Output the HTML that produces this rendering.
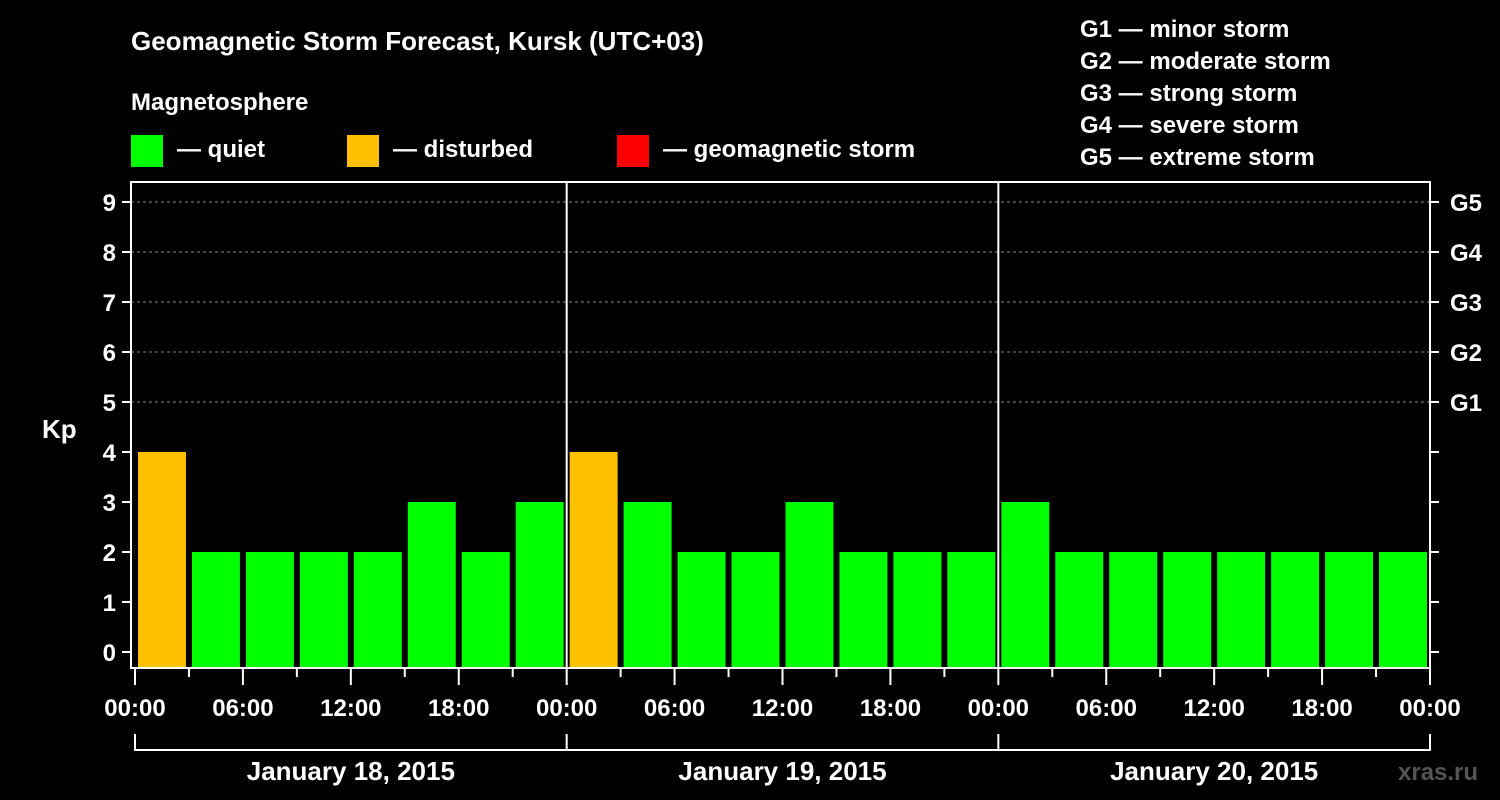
<!DOCTYPE html>
<html><head><meta charset="utf-8"><style>body{margin:0;background:#000}svg{display:block}text{font-family:"Liberation Sans",Arial,sans-serif;font-weight:bold;fill:#fff}</style></head>
<body>
<svg id="c" width="1500" height="800" viewBox="0 0 1500 800">
<rect width="1500" height="800" fill="#000"/>
<text x="131" y="50" font-size="26">Geomagnetic Storm Forecast, Kursk (UTC+03)</text>
<text x="131" y="110" font-size="24">Magnetosphere</text>
<rect x="131" y="135" width="32" height="32" fill="#00ff00"/>
<text x="177" y="157" font-size="24">— quiet</text>
<rect x="347" y="135" width="32" height="32" fill="#ffc000"/>
<text x="393" y="157" font-size="24">— disturbed</text>
<rect x="617" y="135" width="32" height="32" fill="#ff0000"/>
<text x="663" y="157" font-size="24">— geomagnetic storm</text>
<g font-size="24">
<text x="1080" y="37">G1 — minor storm</text>
<text x="1080" y="69">G2 — moderate storm</text>
<text x="1080" y="101">G3 — strong storm</text>
<text x="1080" y="133">G4 — severe storm</text>
<text x="1080" y="165">G5 — extreme storm</text>
</g>
<text x="42" y="438" font-size="26">Kp</text>
<text x="1398" y="780" font-size="24" fill="#555" style="fill:#555">xras.ru</text>
<g id="plot"></g>
</svg>
<script>
const kpValues=[4,2,2,2,2,3,2,3, 4,3,2,2,3,2,2,2, 3,2,2,2,2,2,2,2];
const dayLabels=["January 18, 2015","January 19, 2015","January 20, 2015"];
const hourLabels=["00:00","06:00","12:00","18:00"];
const yTicks=[0,1,2,3,4,5,6,7,8,9];
const gLabels=["G1","G2","G3","G4","G5"];
const NS="http://www.w3.org/2000/svg";
const g=document.getElementById('plot');
const X0=135,X1=1430,Y0=652,PX=50,BOT=668,TOP=182;
const xs=i=>X0+(X1-X0)*i/kpValues.length;
const ys=v=>Y0-v*PX;
function mk(t,a){const e=document.createElementNS(NS,t);for(const k in a)e.setAttribute(k,a[k]);g.appendChild(e);return e;}
// gridlines
yTicks.forEach(v=>{if(v>=5){const l=mk('line',{x1:131,x2:X1,y1:ys(v),y2:ys(v),stroke:'#888','stroke-dasharray':'3,3','stroke-width':1});

}});
// bars
kpValues.forEach((v,i)=>{const c=v>=5?'#ff0000':v>=4?'#ffc000':'#00ff00';
const r=mk('rect',{x:xs(i)+3,y:ys(v),width:(X1-X0)/kpValues.length-6,height:BOT-ys(v),fill:c});

});
// axes frame
const days=dayLabels.length;
[0,1,2,3].forEach(d=>{const x=X0+(X1-X0)*d/days;if(d>0&&d<3){const l=mk('line',{x1:x,x2:x,y1:TOP,y2:BOT,stroke:'#fff','stroke-width':2});

}});
const fr=mk('path',{d:`M131 ${TOP} H${X1} V${BOT} H131 Z`,fill:'none',stroke:'#fff','stroke-width':2});


// y ticks
yTicks.forEach(v=>{const y=ys(v);
const t=mk('line',{x1:122,x2:131,y1:y,y2:y,stroke:'#fff','stroke-width':2});


const t2=mk('line',{x1:X1,x2:X1+9,y1:y,y2:y,stroke:'#fff','stroke-width':2});


const tx=mk('text',{x:116,y:y+9,'font-size':24,'text-anchor':'end'});tx.textContent=v;


if(v>=5){const gt=mk('text',{x:1450,y:y+9,'font-size':24});gt.textContent=gLabels[v-5];

}});
// x ticks
for(let i=0;i<=kpValues.length;i++){const x=xs(i);const major=i%2==0;
const l=mk('line',{x1:x,x2:x,y1:BOT,y2:major?685:677,stroke:'#fff','stroke-width':2});


if(major){const t=mk('text',{x:x,y:716,'font-size':24,'text-anchor':'middle'});t.textContent=hourLabels[(i/2)%4];

}}
// day brackets
const br=mk('path',{d:`M${X0} 734 V750 H${X1} V734`,fill:'none',stroke:'#fff','stroke-width':2});


dayLabels.forEach((d,i)=>{const x=X0+(X1-X0)*i/days;
if(i>0){const l=mk('line',{x1:x,x2:x,y1:734,y2:750,stroke:'#fff','stroke-width':2});

}
const t=mk('text',{x:x+(X1-X0)/days/2,y:780,'font-size':26,'text-anchor':'middle'});t.textContent=d;

});
</script>
</body></html>
